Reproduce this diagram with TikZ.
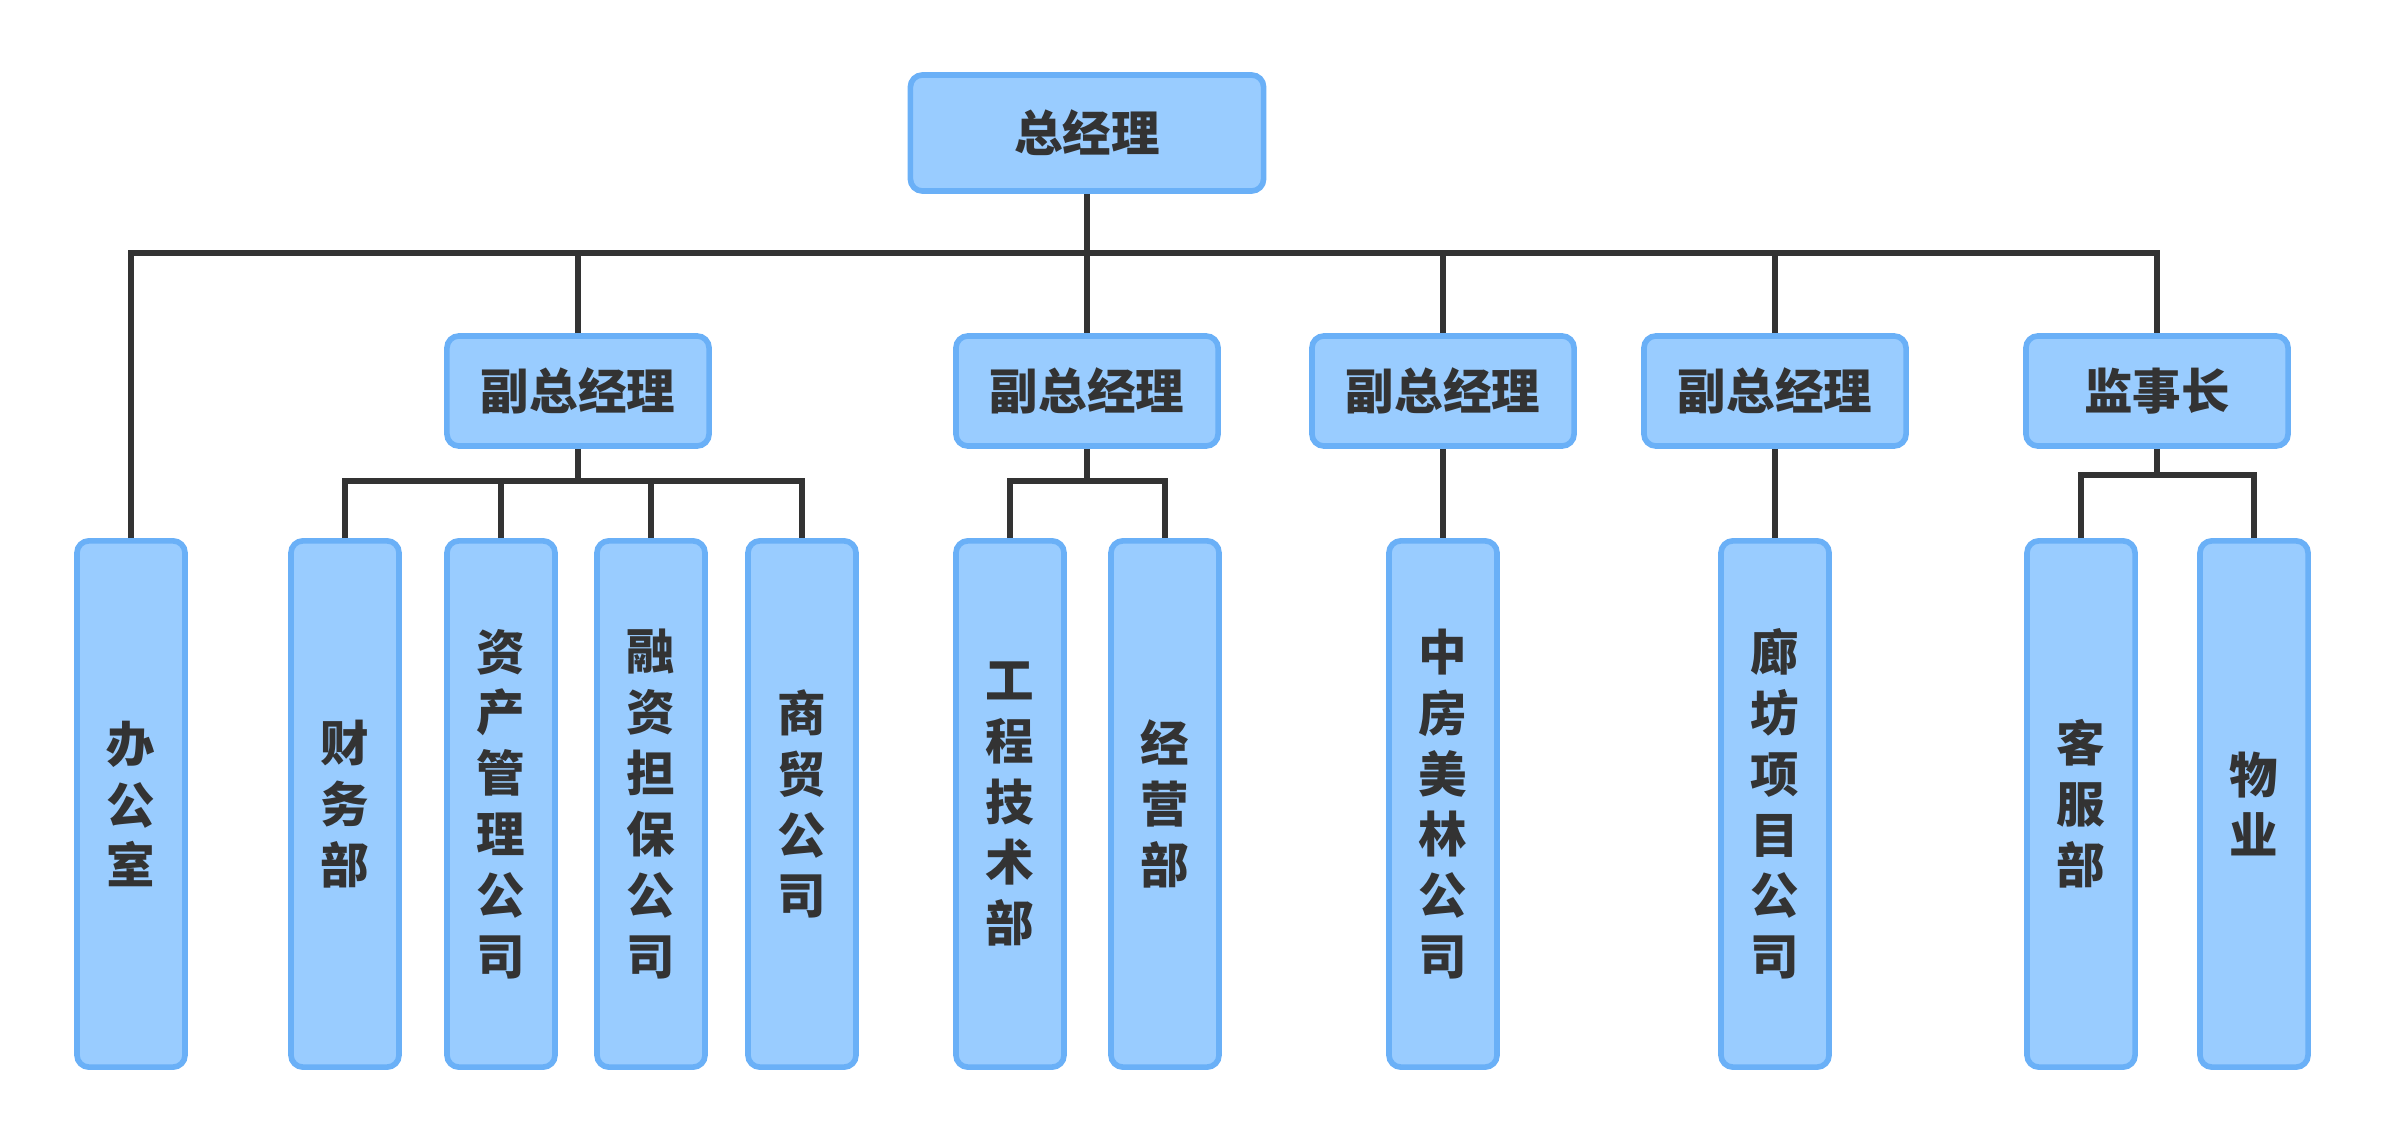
\documentclass[tikz,border=0pt]{standalone}
\usepackage{fontspec}
\setmainfont{Noto Sans CJK SC}
\usepackage{tikz}
\usetikzlibrary{positioning}
\definecolor{boxfill}{HTML}{99CCFF}
\definecolor{boxline}{HTML}{6AB0F7}
\definecolor{ink}{HTML}{333333}

\begin{document}
\begin{tikzpicture}[x=0.01cm, y=-0.01cm,
  every node/.style={font=\fontsize{13.8}{17.3}\selectfont\bfseries, text=ink},
  box/.style={draw=boxline, fill=boxfill, line width=1.6pt, rounded corners=0.12cm,
    minimum width=2.62cm, minimum height=1.1cm, inner sep=0pt},
  tall/.style={box, minimum width=1.08cm, minimum height=5.26cm, align=center},
  link/.style={draw=ink, line width=1.7pt}]
  \useasboundingbox (0,0) rectangle (2385,1146);
  % top
  \node[box, minimum width=3.53cm, minimum height=1.16cm] (zjl) at (1087,133) {总经理};
  % second row
  \node[box] (fz1) at (578,391) {副总经理};
  \node[box] (fz2) at (1087,391) {副总经理};
  \node[box] (fz3) at (1443,391) {副总经理};
  \node[box] (fz4) at (1775,391) {副总经理};
  \node[box] (jsz) at (2157,391) {监事长};
  % third row
  \node[tall] (bgs) at (131,804) {办\\公\\室};
  \node[tall] (cwb) at (345,804) {财\\务\\部};
  \node[tall] (zc) at (501,804) {资\\产\\管\\理\\公\\司};
  \node[tall] (rz) at (651,804) {融\\资\\担\\保\\公\\司};
  \node[tall] (sm) at (802,804) {商\\贸\\公\\司};
  \node[tall] (gc) at (1010,804) {工\\程\\技\\术\\部};
  \node[tall] (jy) at (1165,804) {经\\营\\部};
  \node[tall] (zf) at (1443,804) {中\\房\\美\\林\\公\\司};
  \node[tall] (lf) at (1775,804) {廊\\坊\\项\\目\\公\\司};
  \node[tall] (kf) at (2081,804) {客\\服\\部};
  \node[tall] (wy) at (2254,804) {物\\业};
  % buses
  \coordinate (bus) at (1087,253);
  \coordinate (b1) at (578,481);
  \coordinate (b2) at (1087,481);
  \coordinate (b5) at (2157,475);
  % connectors
  \draw[link] (zjl) -- (fz2);
  \draw[link] (bgs.north) |- (bus) -| (jsz.north);
  \foreach \n in {fz1,fz3,fz4}
    \draw[link] (\n.north) -- (\n.north |- bus);
  \draw[link] (fz1) -- (b1);
  \draw[link] (cwb.north) |- (b1) -| (sm.north);
  \foreach \n in {zc,rz}
    \draw[link] (\n.north) -- (\n.north |- b1);
  \draw[link] (fz2) -- (b2);
  \draw[link] (gc.north) |- (b2) -| (jy.north);
  \draw[link] (fz3) -- (zf);
  \draw[link] (fz4) -- (lf);
  \draw[link] (jsz) -- (b5);
  \draw[link] (kf.north) |- (b5) -| (wy.north);
\end{tikzpicture}
\end{document}
